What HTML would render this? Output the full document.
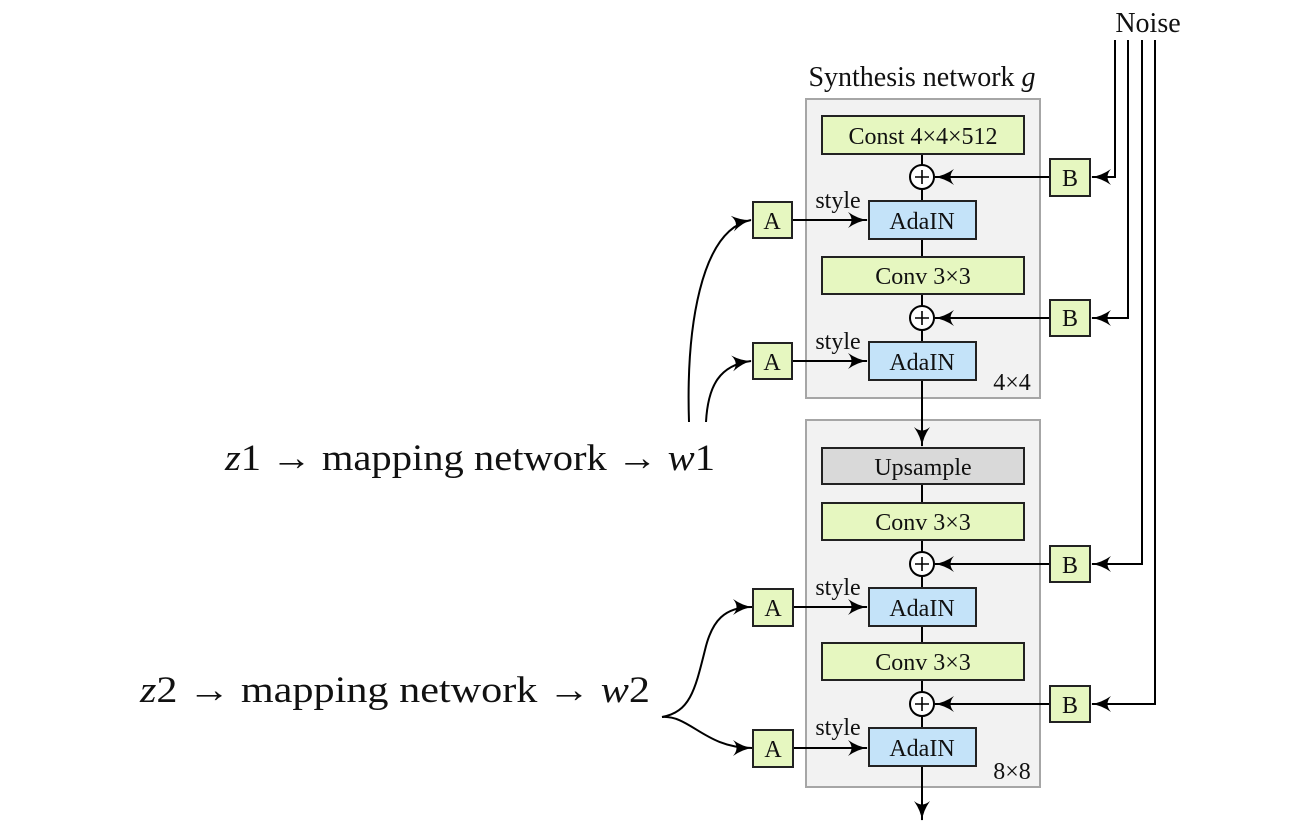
<!DOCTYPE html>
<html><head><meta charset="utf-8"><style>
body{margin:0;background:#fff}
svg{display:block}
text{font-family:"Liberation Serif",serif;fill:#111}
</style></head><body>
<svg width="1300" height="828" viewBox="0 0 1300 828" xmlns="http://www.w3.org/2000/svg">
<defs>
<marker id="ar" viewBox="0 0 20 16" refX="19" refY="8" markerWidth="20" markerHeight="16" markerUnits="userSpaceOnUse" orient="auto">
<path d="M0,0 Q10,7 20,8 Q10,9 0,16 Q7,8 0,0 Z" fill="#000"/>
</marker>
</defs>
<rect x="806" y="99" width="234" height="299" fill="#f2f2f2" stroke="#a6a6a6" stroke-width="2"/>
<rect x="806" y="420" width="234" height="367" fill="#f2f2f2" stroke="#a6a6a6" stroke-width="2"/>
<text x="922" y="86" font-size="28" text-anchor="middle">Synthesis network <tspan font-style="italic">g</tspan></text>
<text x="1148" y="32" font-size="28" text-anchor="middle">Noise</text>

<g stroke="#000" stroke-width="2" fill="none">
<line x1="922" y1="154" x2="922" y2="342"/>
<line x1="922" y1="380" x2="922" y2="446" marker-end="url(#ar)"/>
<line x1="922" y1="484" x2="922" y2="728"/>
<line x1="922" y1="766" x2="922" y2="820" marker-end="url(#ar)"/>
<path d="M1115 40 V177 H1092" marker-end="url(#ar)"/>
<path d="M1128 40 V318 H1092" marker-end="url(#ar)"/>
<path d="M1142 40 V564 H1092" marker-end="url(#ar)"/>
<path d="M1155 40 V704 H1092" marker-end="url(#ar)"/>
<line x1="1050" y1="177" x2="935" y2="177" marker-end="url(#ar)"/>
<line x1="1050" y1="318" x2="935" y2="318" marker-end="url(#ar)"/>
<line x1="1050" y1="564" x2="935" y2="564" marker-end="url(#ar)"/>
<line x1="1050" y1="704" x2="935" y2="704" marker-end="url(#ar)"/>
<line x1="792" y1="220" x2="867" y2="220" marker-end="url(#ar)"/>
<line x1="792" y1="361" x2="867" y2="361" marker-end="url(#ar)"/>
<line x1="793" y1="607" x2="867" y2="607" marker-end="url(#ar)"/>
<line x1="793" y1="748" x2="867" y2="748" marker-end="url(#ar)"/>
<path d="M689 422 C686 330, 700 230, 751 220" marker-end="url(#ar)"/>
<path d="M706 422 C708 385, 720 365, 751 361" marker-end="url(#ar)"/>
<path d="M662 717 C690 712, 695 690, 705 650 C712 620, 725 607, 752 607" marker-end="url(#ar)"/>
<path d="M662 717 C690 715, 705 748, 752 748" marker-end="url(#ar)"/>
</g>

<g stroke="#000" stroke-width="2" fill="#fff">
<circle cx="922" cy="177" r="12"/><circle cx="922" cy="318" r="12"/>
<circle cx="922" cy="564" r="12"/><circle cx="922" cy="704" r="12"/>
</g>
<g stroke="#000" stroke-width="1.6">
<path d="M915 177 H929 M922 170 V184"/><path d="M915 318 H929 M922 311 V325"/>
<path d="M915 564 H929 M922 557 V571"/><path d="M915 704 H929 M922 697 V711"/>
</g>

<g stroke="#222" stroke-width="2">
<rect x="822" y="116" width="202" height="38" fill="#e6f7c0"/>
<rect x="869" y="201" width="107" height="38" fill="#c4e3f9"/>
<rect x="822" y="257" width="202" height="37" fill="#e6f7c0"/>
<rect x="869" y="342" width="107" height="38" fill="#c4e3f9"/>
<rect x="822" y="448" width="202" height="36" fill="#d9d9d9"/>
<rect x="822" y="503" width="202" height="37" fill="#e6f7c0"/>
<rect x="869" y="588" width="107" height="38" fill="#c4e3f9"/>
<rect x="822" y="643" width="202" height="37" fill="#e6f7c0"/>
<rect x="869" y="728" width="107" height="38" fill="#c4e3f9"/>
<rect x="1050" y="159" width="40" height="37" fill="#e6f7c0"/>
<rect x="1050" y="300" width="40" height="36" fill="#e6f7c0"/>
<rect x="1050" y="546" width="40" height="36" fill="#e6f7c0"/>
<rect x="1050" y="686" width="40" height="36" fill="#e6f7c0"/>
<rect x="753" y="202" width="39" height="36" fill="#e6f7c0"/>
<rect x="753" y="343" width="39" height="36" fill="#e6f7c0"/>
<rect x="753" y="589" width="40" height="37" fill="#e6f7c0"/>
<rect x="753" y="730" width="40" height="37" fill="#e6f7c0"/>
</g>

<g font-size="24" text-anchor="middle">
<text x="923" y="144">Const 4×4×512</text>
<text x="922" y="229">AdaIN</text>
<text x="923" y="284">Conv 3×3</text>
<text x="922" y="370">AdaIN</text>
<text x="923" y="475">Upsample</text>
<text x="923" y="530">Conv 3×3</text>
<text x="922" y="616">AdaIN</text>
<text x="923" y="670">Conv 3×3</text>
<text x="922" y="756">AdaIN</text>
<text x="1070" y="186">B</text><text x="1070" y="326">B</text>
<text x="1070" y="573">B</text><text x="1070" y="713">B</text>
<text x="772" y="229">A</text><text x="772" y="370">A</text>
<text x="773" y="616">A</text><text x="773" y="757">A</text>
<text x="838" y="208">style</text><text x="838" y="349">style</text>
<text x="838" y="595">style</text><text x="838" y="735">style</text>
<text x="1012" y="390">4×4</text>
<text x="1012" y="779">8×8</text>
</g>

<text x="225" y="470" font-size="37" textLength="490" lengthAdjust="spacingAndGlyphs"><tspan font-style="italic">z</tspan>1 → mapping network → <tspan font-style="italic">w</tspan>1</text>
<text x="140" y="702" font-size="37" textLength="510" lengthAdjust="spacingAndGlyphs"><tspan font-style="italic">z</tspan>2 → mapping network → <tspan font-style="italic">w</tspan>2</text>
</svg>
</body></html>
